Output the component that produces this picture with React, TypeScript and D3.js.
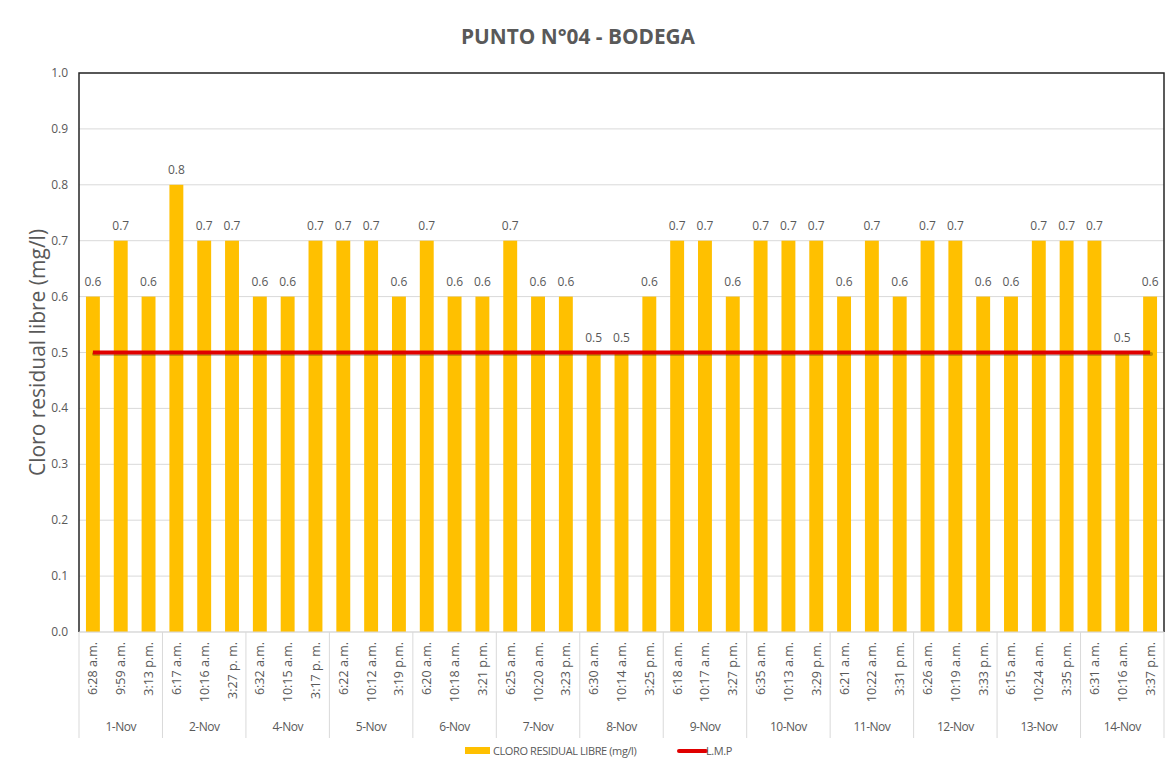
import React, { useEffect, useRef } from "react";
import * as d3 from "d3";

const days = ["1-Nov", "2-Nov", "4-Nov", "5-Nov", "6-Nov", "7-Nov", "8-Nov", "9-Nov", "10-Nov", "11-Nov", "12-Nov", "13-Nov", "14-Nov"];

const times = [
  "6:28 a.m.", "9:59 a.m.", "3:13 p.m.",
  "6:17 a.m.", "10:16 a.m.", "3:27 p. m.",
  "6:32 a.m.", "10:15 a.m.", "3:17 p. m.",
  "6:22 a.m.", "10:12 a.m.", "3:19 p.m.",
  "6:20 a.m.", "10:18 a.m.", "3:21 p.m.",
  "6:25 a.m.", "10:20 a.m.", "3:23 p.m.",
  "6:30 a.m.", "10:14 a.m.", "3:25 p.m.",
  "6:18 a.m.", "10:17 a.m.", "3:27 p.m.",
  "6:35 a.m.", "10:13 a.m.", "3:29 p.m.",
  "6:21 a.m.", "10:22 a.m.", "3:31 p.m.",
  "6:26 a.m.", "10:19 a.m.", "3:33 p.m.",
  "6:15 a.m.", "10:24 a.m.", "3:35 p.m.",
  "6:31 a.m.", "10:16 a.m.", "3:37 p.m.",
];

const cloro = [
  0.6, 0.7, 0.6,
  0.8, 0.7, 0.7,
  0.6, 0.6, 0.7,
  0.7, 0.7, 0.6,
  0.7, 0.6, 0.6,
  0.7, 0.6, 0.6,
  0.5, 0.5, 0.6,
  0.7, 0.7, 0.6,
  0.7, 0.7, 0.7,
  0.6, 0.7, 0.6,
  0.7, 0.7, 0.6,
  0.6, 0.7, 0.7,
  0.7, 0.5, 0.6,
];

const lmp = 0.5;
const yTicks = [0, 0.1, 0.2, 0.3, 0.4, 0.5, 0.6, 0.7, 0.8, 0.9, 1.0];

const W = 1176;
const H = 778;
const FONT = "'Open Sans', sans-serif";

function Chart() {
  const ref = useRef<SVGSVGElement>(null);

  useEffect(() => {
    const svg = d3.select(ref.current);
    svg.selectAll("*").remove();

    const m = { left: 79, right: 1164, top: 73, bottom: 632 };
    const perDay = 3;

    const x = d3.scaleBand<number>()
      .domain(d3.range(cloro.length))
      .range([m.left, m.right])
      .paddingInner(0.5)
      .paddingOuter(0.25);
    const y = d3.scaleLinear().domain([0, 1]).range([m.bottom, m.top]);
    const step = x.step();
    const cx = (i: number) => (x(i) as number) + x.bandwidth() / 2;
    const dayX = (d: number) => m.left + ((m.right - m.left) / days.length) * d;

    // outer frame
    svg.append("rect")
      .attr("x", 7.5).attr("y", 4.5)
      .attr("width", 1165).attr("height", 766)
      .attr("fill", "#fff").attr("stroke", "#d0d0d0");

    // title
    svg.append("text")
      .attr("x", 578).attr("y", 44)
      .attr("text-anchor", "middle")
      .attr("font-family", FONT)
      .attr("font-weight", "bold")
      .attr("font-size", 21)
      .attr("fill", "#595959")
      .attr("textLength", 234)
      .attr("lengthAdjust", "spacingAndGlyphs")
      .text("PUNTO N°04 - BODEGA");

    // gridlines
    svg.append("g")
      .selectAll("line")
      .data(yTicks)
      .join("line")
      .attr("x1", m.left).attr("x2", m.right)
      .attr("y1", d => y(d)).attr("y2", d => y(d))
      .attr("stroke", "#d9d9d9");

    // y tick labels
    svg.append("g")
      .selectAll("text")
      .data(yTicks)
      .join("text")
      .attr("x", 68).attr("y", d => y(d) + 4)
      .attr("text-anchor", "end")
      .attr("font-family", FONT)
      .attr("font-size", 12)
      .attr("fill", "#595959")
      .text(d => d.toFixed(1));

    // y axis title
    svg.append("text")
      .attr("transform", `translate(45,${(m.top + m.bottom) / 2}) rotate(-90)`)
      .attr("text-anchor", "middle")
      .attr("font-family", FONT)
      .attr("font-size", 21)
      .attr("fill", "#595959")
      .text("Cloro residual libre (mg/l)");

    // bars
    svg.append("g")
      .selectAll("rect")
      .data(cloro)
      .join("rect")
      .attr("x", (_, i) => x(i) as number)
      .attr("y", d => y(d))
      .attr("width", x.bandwidth())
      .attr("height", d => m.bottom - y(d))
      .attr("fill", "#ffc000");

    // bar labels
    svg.append("g")
      .selectAll("text")
      .data(cloro)
      .join("text")
      .attr("x", (_, i) => cx(i))
      .attr("y", d => y(d) - 11)
      .attr("text-anchor", "middle")
      .attr("font-family", FONT)
      .attr("font-size", 12)
      .attr("fill", "#595959")
      .text(d => d.toFixed(1));

    // LMP line
    const line = d3.line<number>()
      .x((_, i) => cx(i))
      .y(() => y(lmp));
    const lmpData = cloro.map(() => lmp);
    svg.append("path")
      .datum(lmpData)
      .attr("d", line)
      .attr("transform", "translate(1,1.5)")
      .attr("fill", "none")
      .attr("stroke", "#000")
      .attr("stroke-opacity", 0.25)
      .attr("stroke-width", 4)
      .attr("stroke-linecap", "round");
    svg.append("path")
      .datum(lmpData)
      .attr("d", line)
      .attr("fill", "none")
      .attr("stroke", "#e00000")
      .attr("stroke-width", 4);

    // plot frame (black top/left/right)
    svg.append("path")
      .attr("d", `M${m.left},${m.bottom}V${m.top}H${m.right}V${m.bottom}`)
      .attr("fill", "none")
      .attr("stroke", "#262626")
      .attr("stroke-width", 1.5);

    // x axis baseline
    svg.append("line")
      .attr("x1", m.left).attr("x2", m.right)
      .attr("y1", m.bottom).attr("y2", m.bottom)
      .attr("stroke", "#d9d9d9");

    // group separators
    svg.append("g")
      .selectAll("line")
      .data(d3.range(days.length + 1))
      .join("line")
      .attr("x1", d => dayX(d)).attr("x2", d => dayX(d))
      .attr("y1", m.bottom).attr("y2", 738)
      .attr("stroke", "#d9d9d9");

    // time labels
    svg.append("g")
      .selectAll("text")
      .data(times)
      .join("text")
      .attr("transform", (_, i) => `translate(${cx(i) + 4.5},${m.bottom + 10}) rotate(-90)`)
      .attr("text-anchor", "end")
      .attr("font-family", FONT)
      .attr("font-size", 12.5)
      .attr("fill", "#595959")
      .text(d => d);

    // day labels
    svg.append("g")
      .selectAll("text")
      .data(days)
      .join("text")
      .attr("x", (_, d) => dayX(d) + (step * perDay) / 2)
      .attr("y", 731)
      .attr("text-anchor", "middle")
      .attr("font-family", FONT)
      .attr("font-size", 12)
      .attr("fill", "#595959")
      .attr("letter-spacing", -0.5)
      .text(d => d);

    // legend
    const lg = svg.append("g");
    lg.append("rect")
      .attr("x", 465).attr("y", 747)
      .attr("width", 25).attr("height", 7)
      .attr("fill", "#ffc000");
    lg.append("text")
      .attr("x", 493).attr("y", 755)
      .attr("font-family", FONT)
      .attr("font-size", 11)
      .attr("fill", "#595959")
      .attr("letter-spacing", -0.4)
      .text("CLORO RESIDUAL LIBRE (mg/l)");
    lg.append("line")
      .attr("x1", 679).attr("x2", 706)
      .attr("y1", 751).attr("y2", 751)
      .attr("stroke", "#e00000")
      .attr("stroke-width", 4)
      .attr("stroke-linecap", "round");
    lg.append("text")
      .attr("x", 706).attr("y", 755)
      .attr("font-family", FONT)
      .attr("font-size", 11)
      .attr("fill", "#595959")
      .attr("letter-spacing", -0.4)
      .text("L.M.P");
  }, []);

  return <svg ref={ref} width={W} height={H} style={{ display: "block" }} />;
}

export default function App() {
  return (
    <div style={{ margin: -8 }}>
      <Chart />
    </div>
  );
}
